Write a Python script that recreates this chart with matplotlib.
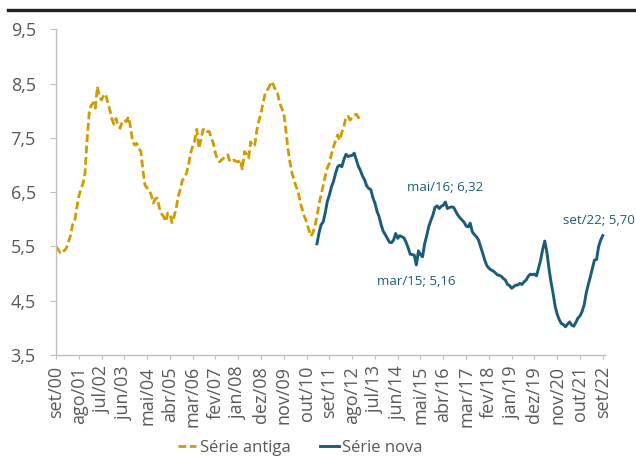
import matplotlib
matplotlib.use("Agg")
import matplotlib.pyplot as plt
from matplotlib.lines import Line2D
import numpy as np

plt.rcParams["font.family"] = ["Open Sans", "DejaVu Sans"]

# monthly series, Sep/2000 = month 0
START_ANTIGA = 0      # set/00
START_NOVA = 126      # mar/11

serie_antiga = [
    5.50, 5.45, 5.39, 5.44, 5.42, 5.47, 5.58, 5.70, 5.90, 5.96,
    6.20, 6.42, 6.55, 6.65, 6.85, 7.45, 7.95, 8.10, 8.15, 8.05,
    8.45, 8.25, 8.20, 8.28, 8.31, 8.15, 8.02, 7.85, 7.75, 7.86,
    7.72, 7.68, 7.80, 7.83, 7.80, 7.89, 7.70, 7.43, 7.37, 7.40,
    7.31, 7.25, 6.90, 6.63, 6.58, 6.54, 6.45, 6.30, 6.38, 6.39,
    6.20, 6.10, 6.05, 5.96, 6.12, 6.11, 5.94, 6.05, 6.20, 6.42,
    6.55, 6.72, 6.76, 6.85, 7.00, 7.22, 7.35, 7.46, 7.66, 7.31,
    7.46, 7.65, 7.68, 7.62, 7.62, 7.50, 7.40, 7.22, 7.10, 7.06,
    7.10, 7.13, 7.17, 7.19, 7.06, 7.08, 7.09, 7.07, 7.06, 7.10,
    6.91, 7.25, 7.20, 7.13, 7.43, 7.35, 7.37, 7.65, 7.82, 7.96,
    8.15, 8.32, 8.38, 8.45, 8.54, 8.48, 8.38, 8.32, 8.15, 8.05,
    7.95, 7.65, 7.30, 7.05, 6.85, 6.72, 6.60, 6.50, 6.30, 6.17,
    6.05, 5.95, 5.82, 5.69, 5.75, 5.87, 6.05, 6.28, 6.45, 6.62,
    6.80, 6.95, 7.03, 7.20, 7.34, 7.45, 7.56, 7.46, 7.60, 7.71,
    7.89, 7.90, 7.83, 7.88, 7.92, 7.94, 7.88, 7.84,
]

serie_nova = [
    5.55, 5.75, 5.90, 5.95, 6.12, 6.33, 6.45, 6.60, 6.70, 6.85,
    6.97, 7.00, 6.97, 7.10, 7.20, 7.16, 7.17, 7.18, 7.22, 7.10,
    6.98, 6.90, 6.80, 6.73, 6.62, 6.57, 6.55, 6.40, 6.30, 6.15,
    6.05, 5.90, 5.78, 5.72, 5.65, 5.58, 5.57, 5.62, 5.74, 5.65,
    5.70, 5.68, 5.66, 5.58, 5.48, 5.36, 5.35, 5.34, 5.16, 5.42,
    5.35, 5.31, 5.55, 5.70, 5.87, 5.98, 6.08, 6.22, 6.25, 6.20,
    6.24, 6.26, 6.32, 6.20, 6.22, 6.23, 6.22, 6.15, 6.08, 6.03,
    5.99, 5.95, 5.88, 5.86, 5.93, 5.77, 5.72, 5.68, 5.62, 5.50,
    5.38, 5.25, 5.15, 5.10, 5.07, 5.05, 5.02, 4.98, 4.97, 4.95,
    4.91, 4.88, 4.80, 4.78, 4.73, 4.76, 4.79, 4.79, 4.82, 4.80,
    4.85, 4.88, 4.95, 4.99, 4.98, 4.99, 4.96, 5.10, 5.25, 5.45,
    5.60, 5.40, 5.10, 4.85, 4.64, 4.40, 4.25, 4.15, 4.08, 4.06,
    4.02, 4.07, 4.11, 4.05, 4.03, 4.10, 4.18, 4.22, 4.30, 4.42,
    4.64, 4.80, 4.94, 5.10, 5.25, 5.26, 5.50, 5.62, 5.70,
]

x_labels = ["set/00", "ago/01", "jul/02", "jun/03", "mai/04", "abr/05",
            "mar/06", "fev/07", "jan/08", "dez/08", "nov/09", "out/10",
            "set/11", "ago/12", "jul/13", "jun/14", "mai/15", "abr/16",
            "mar/17", "fev/18", "jan/19", "dez/19", "nov/20", "out/21",
            "set/22"]
TICK_STEP = 11

# labelled points: month index, text, text offset in points
destaques = [(174, "mar/15; 5,16", (0, -7)),
             (188, "mai/16; 6,32", (0, 6)),
             (264, "set/22; 5,70", (-3, 6.5))]

GOLD = "#D29B00"
TEAL = "#1B5C7C"
GRAY = "#595959"

x_antiga = np.arange(START_ANTIGA, START_ANTIGA + len(serie_antiga))
x_nova = np.arange(START_NOVA, START_NOVA + len(serie_nova))

fig = plt.figure(figsize=(6.36, 4.58), dpi=100)
ax = fig.add_axes([0.088, 0.2249, 0.863, 0.7107])

ax.plot(x_antiga, serie_antiga, color=GOLD, lw=2.0, ls=(0, (2.8, 1.3)),
        label="Série antiga")
ax.plot(x_nova, serie_nova, color=TEAL, lw=2.1, label="Série nova")

for m, txt, off in destaques:
    v = serie_nova[m - START_NOVA]
    ax.annotate(txt, (m, v), xytext=off, textcoords="offset points",
                ha="center", va="bottom" if off[1] > 0 else "top",
                color=TEAL, fontsize=9.5)

yt = np.arange(3.5, 9.51, 1.0)
ax.set_xlim(0, 265)
ax.set_ylim(3.5, 9.5)
ax.set_yticks(yt)
ax.set_yticklabels([f"{v:.1f}".replace(".", ",") for v in yt])
ax.set_xticks(np.arange(0, TICK_STEP * len(x_labels), TICK_STEP))
ax.set_xticklabels(x_labels, rotation=90)

for s in ["top", "right"]:
    ax.spines[s].set_visible(False)
for s in ["left", "bottom"]:
    ax.spines[s].set_color("#BFBFBF")
    ax.spines[s].set_linewidth(1.0)
ax.tick_params(axis="y", colors="#BFBFBF", labelcolor=GRAY, labelsize=13,
               length=4.5, pad=10)
ax.tick_params(axis="x", colors="#BFBFBF", labelcolor=GRAY, labelsize=13,
               length=3, pad=5)

fig.legend(loc="lower center", bbox_to_anchor=(0.472, -0.028), ncol=2,
           frameon=False, fontsize=12, handlelength=1.1, handletextpad=0.2,
           columnspacing=1.8, labelcolor=GRAY)

# heavy rule along the top of the panel
fig.add_artist(Line2D([8 / 636, 1.0], [1 - 9.5 / 458] * 2, color="#231F20",
                      lw=2.4, transform=fig.transFigure))

fig.savefig("out.png", dpi=100)
